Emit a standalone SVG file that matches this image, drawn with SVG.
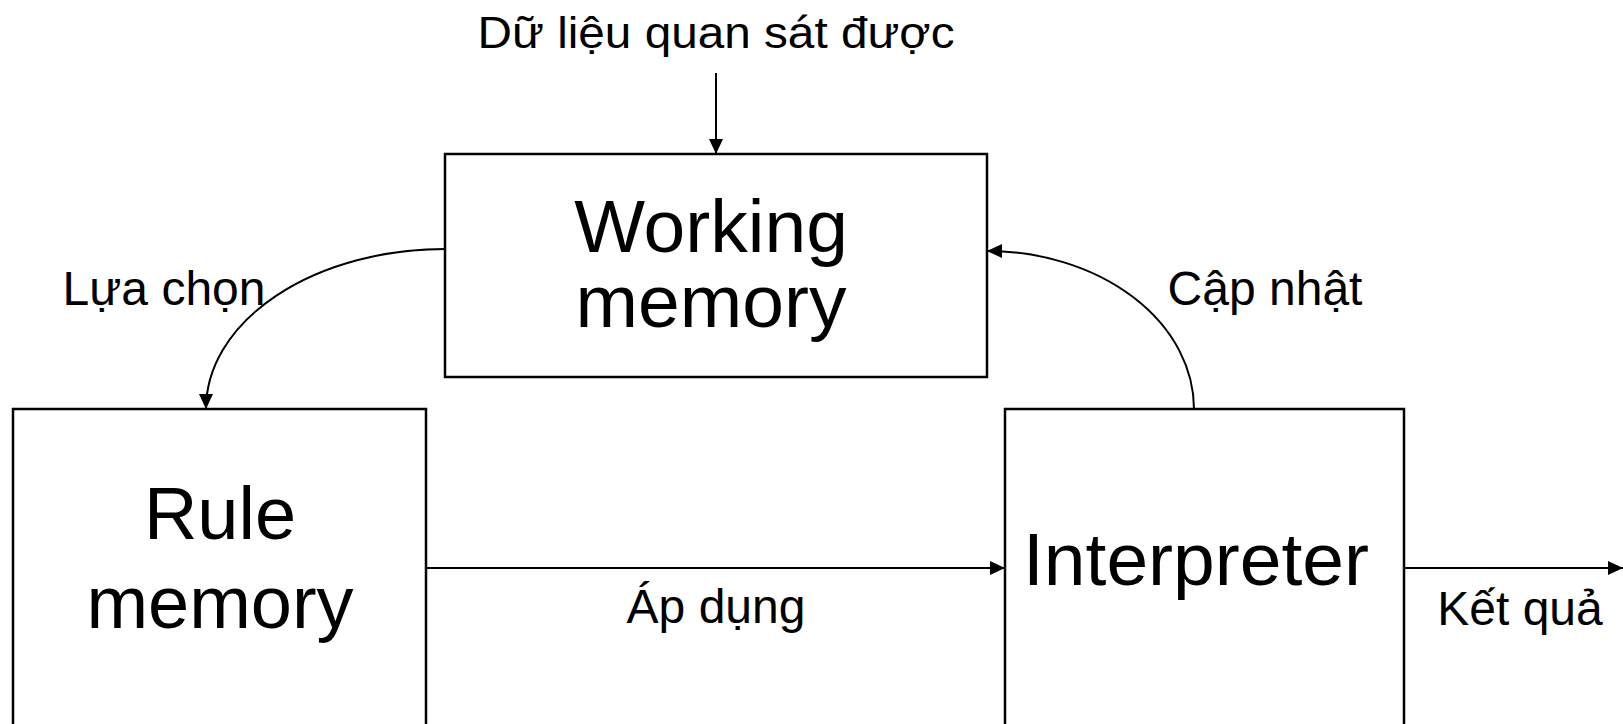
<svg xmlns="http://www.w3.org/2000/svg" width="1623" height="724" viewBox="0 0 1623 724">
<style>
  .box { fill: #ffffff; stroke: #000000; stroke-width: 2.5; }
  .conn { fill: none; stroke: #000000; stroke-width: 2; }
  text { font-family: "Liberation Sans", Arial, sans-serif; fill: #000000; }
  .big { text-anchor: middle; }
  .lbl { font-size: 48px; text-anchor: middle; }
</style>
<defs>
  <marker id="arrow" viewBox="0 0 15 14" refX="15" refY="7" markerWidth="15" markerHeight="14" markerUnits="userSpaceOnUse" orient="auto">
    <path d="M0,0 L15,7 L0,14 z" fill="#000000"/>
  </marker>
</defs>
<rect width="1623" height="724" fill="#ffffff"/>
<g id="working-memory">
  <rect class="box" x="445" y="154" width="542" height="223"/>
  <text class="big" font-size="75"><tspan x="711" y="252">Working</tspan><tspan x="711" y="327">memory</tspan></text>
</g>
<g id="rule-memory">
  <rect class="box" x="13" y="409" width="413" height="340"/>
  <text class="big" font-size="74"><tspan x="220" y="539">Rule</tspan><tspan x="220" y="628">memory</tspan></text>
</g>
<g id="interpreter">
  <rect class="box" x="1005" y="409" width="399" height="340"/>
  <text class="big" x="1196" y="585" font-size="75">Interpreter</text>
</g>
<g id="connectors">
  <line class="conn" x1="716" y1="73" x2="716" y2="154" marker-end="url(#arrow)"/>
  <path class="conn" d="M445,249 A239,160 0 0 0 206,409" marker-end="url(#arrow)"/>
  <line class="conn" x1="427" y1="568" x2="1005" y2="568" marker-end="url(#arrow)"/>
  <path class="conn" d="M1194,409 A207,158 0 0 0 987,251" marker-end="url(#arrow)"/>
  <line class="conn" x1="1404" y1="568" x2="1623" y2="568" marker-end="url(#arrow)"/>
</g>
<g id="labels">
  <text x="716" y="48" font-size="45" text-anchor="middle" textLength="477" lengthAdjust="spacingAndGlyphs">Dữ liệu quan sát được</text>
  <text class="lbl" x="164" y="305">Lựa chọn</text>
  <text class="lbl" x="1265" y="305">Cập nhật</text>
  <text class="lbl" x="716" y="623">Áp dụng</text>
  <text class="lbl" x="1520" y="625">Kết quả</text>
</g>
</svg>
